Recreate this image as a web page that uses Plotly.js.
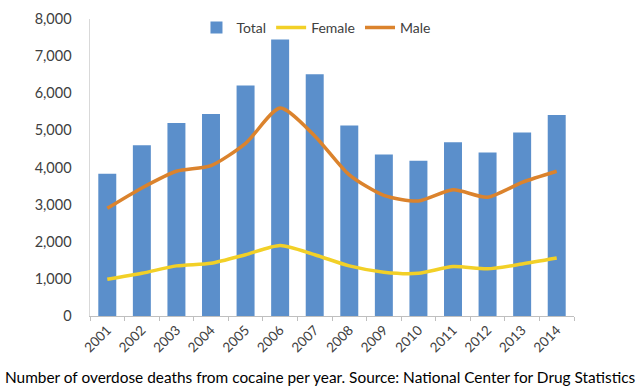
<!DOCTYPE html>
<html>
<head>
<meta charset="utf-8">
<script src="https://cdn.plot.ly/plotly-3.0.1.min.js"></script>
<style>html,body{margin:0;padding:0;background:#fff;}#chart{width:644px;height:392px;}</style>
</head>
<body>
<div id="chart"></div>
<script>
const years = ['2001','2002','2003','2004','2005','2006','2007','2008','2009','2010','2011','2012','2013','2014'];
const total = [3833, 4599, 5199, 5443, 6208, 7448, 6512, 5129, 4350, 4183, 4681, 4404, 4944, 5415];
const female = [990, 1150, 1350, 1420, 1650, 1900, 1650, 1350, 1180, 1150, 1330, 1270, 1400, 1560];
const male = [2900, 3450, 3900, 4050, 4650, 5600, 4850, 3800, 3250, 3100, 3400, 3200, 3600, 3900];
const yTicks = [0, 1000, 2000, 3000, 4000, 5000, 6000, 7000, 8000];
const yTickText = ['0', '1,000', '2,000', '3,000', '4,000', '5,000', '6,000', '7,000', '8,000'];
const caption = 'Number of overdose deaths from cocaine per year. Source: National Center for Drug Statistics';

const FONT = 'Lato, "Open Sans", sans-serif';
const data = [
  {type: 'bar', name: 'Total', x: years, y: total, marker: {color: '#5B8FCB'}},
  {type: 'scatter', mode: 'lines', name: 'Female', x: years, y: female,
   line: {color: '#F2D027', width: 3.5, shape: 'spline', smoothing: 0.7}},
  {type: 'scatter', mode: 'lines', name: 'Male', x: years, y: male,
   line: {color: '#DB832D', width: 3.5, shape: 'spline', smoothing: 0.7}}
];
const layout = {
  width: 644, height: 392,
  margin: {l: 90, r: 70, t: 19, b: 76},
  paper_bgcolor: '#fff', plot_bgcolor: '#fff',
  font: {family: FONT, color: '#404040', size: 14},
  bargap: 0.48,
  showlegend: true,
  legend: {orientation: 'h', x: 0.22, xanchor: 'left', y: 0.97, yanchor: 'middle',
           font: {family: FONT, size: 14, color: '#404040'}, bgcolor: 'rgba(0,0,0,0)',
           traceorder: 'normal'},
  xaxis: {type: 'category', tickangle: -45, tickson: 'boundaries', ticks: 'outside', ticklen: 4,
          tickcolor: '#BFBFBF', showline: true, linecolor: '#BFBFBF', linewidth: 1,
          showgrid: false, zeroline: false, tickfont: {family: FONT, size: 13.5, color: '#404040'}},
  yaxis: {range: [0, 8000], tickvals: yTicks, ticktext: yTickText, showline: true,
          linecolor: '#D9D9D9', linewidth: 1.5, showgrid: false, zeroline: false, ticks: '',
          tickfont: {family: FONT, size: 14.5, color: '#404040'}, ticklabelstandoff: 14},
  annotations: [{text: caption, xref: 'paper', yref: 'paper', x: -0.18, y: -0.205,
                 xanchor: 'left', yanchor: 'middle', showarrow: false,
                 font: {family: FONT, size: 15.4, color: '#000'}}]
};
Plotly.newPlot('chart', data, layout, {staticPlot: true, displayModeBar: false});
</script>
</body>
</html>
